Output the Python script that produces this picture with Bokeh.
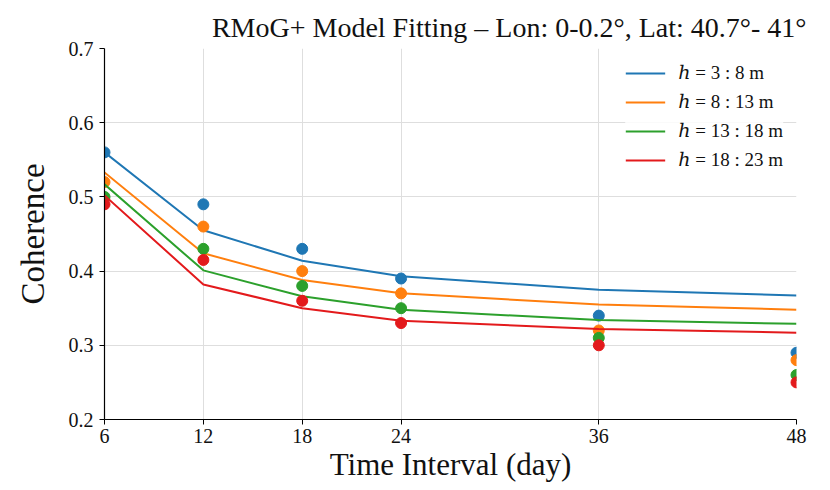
from bokeh.plotting import figure
from bokeh.models import FixedTicker, Legend, LegendItem, Range1d
from bokeh.embed import file_html
from bokeh.resources import INLINE

# Time intervals (days) and tick positions
days = [6, 12, 18, 24, 36, 48]
x_ticks = [6, 12, 18, 24, 36, 48]
y_ticks = [0.2, 0.3, 0.4, 0.5, 0.6, 0.7]

# Observed coherence per height band
obs_3_8 = [0.56, 0.49, 0.43, 0.39, 0.34, 0.29]
obs_8_13 = [0.52, 0.46, 0.40, 0.37, 0.32, 0.28]
obs_13_18 = [0.50, 0.43, 0.38, 0.35, 0.31, 0.26]
obs_18_23 = [0.49, 0.415, 0.36, 0.33, 0.30, 0.25]

# RMoG+ model fits per height band
fit_3_8 = [0.560, 0.455, 0.414, 0.393, 0.375, 0.367]
fit_8_13 = [0.533, 0.424, 0.388, 0.370, 0.355, 0.348]
fit_13_18 = [0.517, 0.401, 0.366, 0.348, 0.334, 0.329]
fit_18_23 = [0.502, 0.382, 0.350, 0.333, 0.322, 0.317]

labels = ["ℎ = 3 : 8 m", "ℎ = 8 : 13 m", "ℎ = 13 : 18 m", "ℎ = 18 : 23 m"]
colors = ["#1f77b4", "#ff7f0e", "#2ca02c", "#e31a1c"]

SERIF = "'Liberation Serif', 'DejaVu Serif', serif"

p = figure(
    width=830, height=490,
    output_backend="svg", toolbar_location=None,
    x_range=Range1d(6, 48), y_range=Range1d(0.2, 0.7),
    min_border_left=104, min_border_right=34,
    min_border_top=48, min_border_bottom=71,
    title="RMoG+ Model Fitting – Lon: 0-0.2°, Lat: 40.7°- 41°",
)
p.outline_line_color = None
p.background_fill_color = "white"
p.border_fill_color = "white"

p.title.text_font = SERIF
p.title.text_font_size = "28px"
p.title.text_font_style = "normal"
p.title.text_color = "#111111"
p.title.align = "right"
p.title.offset = -10
p.title.standoff = 12

for ax in (p.xaxis[0], p.yaxis[0]):
    ax.axis_line_color = "black"
    ax.axis_line_width = 1.2
    ax.major_tick_line_color = "black"
    ax.major_tick_out = 5
    ax.major_tick_in = 0
    ax.minor_tick_line_color = None
    ax.major_label_text_font = SERIF
    ax.major_label_text_font_size = "20px"
    ax.major_label_text_color = "#111111"
    ax.axis_label_text_font = SERIF
    ax.axis_label_text_font_style = "normal"
    ax.axis_label_text_color = "#111111"

p.xaxis.ticker = FixedTicker(ticks=x_ticks)
p.yaxis.ticker = FixedTicker(ticks=y_ticks)
p.xaxis.axis_label = "Time Interval (day)"
p.yaxis.axis_label = "Coherence"
p.xaxis.axis_label_text_font_size = "31px"
p.yaxis.axis_label_text_font_size = "33px"
p.xaxis.major_label_standoff = 4
p.xaxis.axis_label_standoff = 1
p.yaxis.major_label_standoff = 6
p.yaxis.axis_label_standoff = 15

p.xgrid.grid_line_color = "#dedede"
p.ygrid.grid_line_color = "#dedede"
p.xgrid.grid_line_width = 1
p.ygrid.grid_line_width = 1

observed = [obs_3_8, obs_8_13, obs_13_18, obs_18_23]
fitted = [fit_3_8, fit_8_13, fit_13_18, fit_18_23]

items = []
for obs, fit, col, lab in zip(observed, fitted, colors, labels):
    r = p.line(days, fit, line_color=col, line_width=2)
    p.scatter(days, obs, size=11, fill_color=col, line_color=col)
    items.append(LegendItem(label=lab, renderers=[r]))

legend = Legend(
    items=items, location="top_right",
    label_text_font=SERIF, label_text_font_size="19px",
    label_text_color="#111111",
    glyph_width=40, glyph_height=20, label_height=20,
    label_standoff=13, spacing=6, padding=0, margin=13,
    background_fill_color="white", background_fill_alpha=0.85,
    border_line_alpha=0,
)
p.add_layout(legend)

open("out.html", "w").write(file_html(p, INLINE))
